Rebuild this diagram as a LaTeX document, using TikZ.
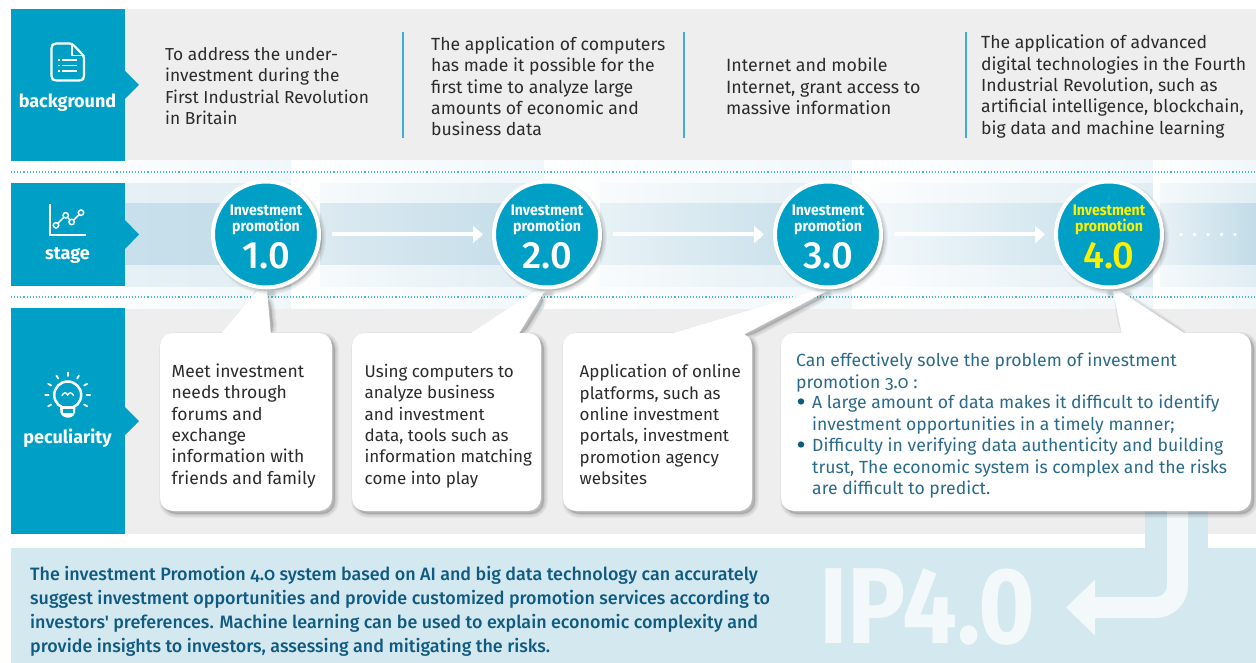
\documentclass[tikz,border=0pt]{standalone}
\usepackage{fontspec}
\setmainfont{Fira Sans}[Ligatures=TeXOff]
\newfontfamily\medfont{Fira Sans Medium}[Ligatures=TeXOff,Numbers=OldStyle]
\newfontfamily\mednum{Fira Sans Medium}[Ligatures=TeXOff]
\usetikzlibrary{arrows.meta}
\definecolor{teal0}{HTML}{00A0C6}
\definecolor{greyrow}{HTML}{EEEEEE}
\definecolor{band1}{HTML}{F0F7FA}
\definecolor{band2}{HTML}{E0EDF3}
\definecolor{band3}{HTML}{C2DCE8}
\definecolor{panel}{HTML}{D4E8F0}
\definecolor{ghost}{HTML}{F3F9FB}
\definecolor{dots}{HTML}{45BAD3}
\definecolor{divider}{HTML}{3DB0D0}
\definecolor{bodyink}{HTML}{2B2B2B}
\definecolor{boxink}{HTML}{2A6A8A}
\definecolor{panelink}{HTML}{0F5A80}
\definecolor{hilite}{HTML}{FFF000}
\newcommand\softshadow[1]{\foreach \w in {8,6,4,2}{\draw[black,opacity=.04,line width=\w pt,line join=round,fill=black,shift={(3,3)}] #1;}}
\newcommand\bodyfont{\fontsize{17}{21.35}\selectfont}
\newcommand\topfont{\fontsize{17.6}{21.35}\selectfont}
\newcommand\segment[5]{%
 \definecolor{segdark}{HTML}{#4}\definecolor{segmid}{HTML}{#5}%
 \shade[left color=white,right color=band1] (#1,161) rectangle (#2,308);
 \shade[left color=segmid,right color=band2] (#3,184) rectangle (#2,286);
 \shade[left color=segdark,right color=band3] (#3,204) rectangle (#2,265);}
\tikzset{
 blockhead/.style={fill=teal0,draw=none},
 rowlabel/.style={text=white,font=\fontsize{18}{20}\selectfont\bfseries,anchor=center,inner sep=0},
 toptext/.style={text=bodyink,font=\topfont,align=left,anchor=west,inner sep=0},
 boxtext/.style={text=bodyink,font=\bodyfont,align=left,anchor=west,inner sep=0},
 fourtext/.style={text=boxink,font=\fontsize{17.6}{21.35}\selectfont\addfontfeature{Numbers=OldStyle},align=left,anchor=north west,inner sep=0},
 paneltext/.style={text=panelink,font=\medfont\fontsize{17.9}{24}\selectfont,align=left,anchor=north west,inner sep=0},
 stagecircle/.style={circle,fill=teal0,draw=white,line width=4pt,minimum size=106pt,inner sep=0},
 stagename/.style={font=\fontsize{15.3}{16}\selectfont\bfseries\addfontfeature{FakeStretch=.92},align=center,inner sep=0,anchor=center},
 stagenum/.style={font=\mednum\fontsize{38}{40}\selectfont,inner sep=0,anchor=center},
 flow/.style={white,line width=4pt,-{Triangle[length=10pt,width=17pt]}},
 icon/.style={white,line width=2.2pt,line join=round,line cap=round},
 rule/.style={divider,line width=2pt},
 dotrule/.style={dots,line width=1.1pt,dash pattern=on 1.1pt off 2pt},
}
\begin{document}
\begin{tikzpicture}[x=1pt,y=-1pt]
\useasboundingbox (0,0) rectangle (1256,663);
\fill[white] (0,0) rectangle (1256,663);
% grey rows
\fill[greyrow] (125,9) rectangle (1256,161);
\fill[greyrow] (125,308) rectangle (1256,534);
% stage band
\fill[white] (11,161) rectangle (1256,308);
\segment{60}{291}{125}{C8E0EB}{E6F1F6}
\segment{291}{544}{320}{DCEAF1}{F6FAFC}
\segment{544}{852}{600}{E8F2F6}{F8FBFC}
\segment{852}{1153}{870}{F4F9FB}{FCFDFE}
\segment{1153}{1256}{1160}{E8F1F6}{F4F9FB}
\draw[dotrule] (11,172) -- (1256,172);
\draw[dotrule] (11,297) -- (1256,297);
% left heads
\fill[blockhead] (11,9) rectangle (125,161);
\fill[blockhead] (125,71) -- (139,85) -- (125,99) -- cycle;
\fill[blockhead] (11,183) rectangle (125,286);
\fill[blockhead] (125,220) -- (139,234.5) -- (125,249) -- cycle;
\fill[blockhead] (11,308) rectangle (125,534);
\fill[blockhead] (125,407) -- (139,421) -- (125,435) -- cycle;
\node[rowlabel] (lb1) at (67.5,102.5) {background};
\node[rowlabel] (lb2) at (67.5,255.5) {stage};
\node[rowlabel] (lb3) at (67.5,438) {peculiarity};
% document icon
\draw[icon,rounded corners=2.5pt] (72,43.5) -- (54,43.5) -- (51.5,46) -- (51.5,78) -- (54,80.5) -- (81.5,80.5) -- (84,78) -- (84,56) -- cycle;
\draw[icon,line width=1.4pt] (72,44) -- (72,55.5) -- (84,55.5);
\foreach \yy in {60,65.5,71}{\draw[white,line width=1.3pt] (62,\yy) -- (77,\yy); \draw[white,line width=1.3pt] (58,\yy) -- (60,\yy);}
% chart icon
\draw[white,line width=1.2pt] (50,204) -- (50,235) -- (85.6,235);
\draw[white,line width=1.5pt] (56,225.3) -- (65.7,215.3) -- (71.7,222) -- (81,212.7);
\foreach \px/\py in {56/225.3,65.7/215.3,71.7/222,81/212.7}{\draw[white,line width=1.5pt,fill=teal0] (\px,\py) circle (2.7);}
% bulb icon
\draw[icon,line width=2.5pt] (67.7,395) circle (13.5);
\fill[white,rounded corners=1.5pt] (60,406) -- (60.5,414) -- (65,417.5) -- (71,417.5) -- (75,414) -- (75.5,406) -- cycle;
\fill[teal0] (62.5,409) rectangle (73,413);
\draw[white,line width=1.4pt,line cap=round] (62,395.5) .. controls (64,392) and (66,392) .. (67.7,395) .. controls (69.5,392) and (71.5,392) .. (73.5,395.5);
\foreach \a in {0,30,60,90,120,150,180,210,330}{\draw[icon,line width=1.8pt] ({67.7+cos(\a)*19},{395-sin(\a)*19}) -- ({67.7+cos(\a)*22.5},{395-sin(\a)*22.5});}
% top row
\node[toptext,font=\fontsize{17.35}{21.35}\selectfont] (t1) at (165,86) {To address the under-\\investment during the\\First Industrial Revolution\\in Britain};
\node[toptext] (t2) at (431,86.5) {The application of computers\\has made it possible for the\\first time to analyze large\\amounts of economic and\\business data};
\node[toptext,font=\fontsize{17.8}{21.35}\selectfont] (t3) at (726,86.5) {Internet and mobile\\Internet, grant access to\\massive information};
\node[toptext] (t4) at (981,86.5) {The application of advanced\\digital technologies in the Fourth\\Industrial Revolution, such as\\artificial intelligence, blockchain,\\big data and machine learning};
\draw[rule] (402.5,32) -- (402.5,138);
\draw[rule] (683.5,32) -- (683.5,138);
\draw[rule] (965.5,32) -- (965.5,138);
% bottom panel
\fill[panel] (11,548) rectangle (1256,663);
\fill[panel] (1145,505) rectangle (1208,548);
\node[font=\fontsize{108}{110}\selectfont\bfseries\addfontfeature{FakeStretch=.9},text=ghost,inner sep=0,anchor=base] (ip) at (927.5,643) {IP4.0};
\coordinate (bendstart) at (1177.5,505);
\coordinate (bendcorner) at (1177.5,607.5);
\coordinate (bendend) at (1066,607.5);
\draw[ghost,line width=21pt,rounded corners=22pt,-{Triangle[length=29pt,width=54pt]}] (bendstart) -- (bendcorner) -- (bendend);
\node[paneltext] (pt) at (30,566) {The investment Promotion 4.0 system based on AI and big data technology can accurately\\suggest investment opportunities and provide customized promotion services according to\\investors' preferences. Machine learning can be used to explain economic complexity and\\provide insights to investors, assessing and mitigating the risks.};
% callouts
\softshadow{(160,333) [rounded corners=13pt] rectangle (332,511) (220,335) -- (257,291) -- (267,291) -- (271,335) -- cycle}
\softshadow{(352,333) [rounded corners=13pt] rectangle (541,511) (468,335) -- (535,291) -- (545,291) -- (518,335) -- cycle}
\softshadow{(563,333) [rounded corners=13pt] rectangle (752,511) (667,335) -- (813,291) -- (827,291) -- (743,335) -- cycle}
\softshadow{(781,333) [rounded corners=13pt] rectangle (1251,511) (1122,335) -- (1113,291) -- (1120,291) -- (1187,335) -- cycle}
\fill[white,rounded corners=13pt] (160,333) rectangle (332,511);
\fill[white,rounded corners=13pt] (352,333) rectangle (541,511);
\fill[white,rounded corners=13pt] (563,333) rectangle (752,511);
\fill[white,rounded corners=13pt] (781,333) rectangle (1251,511);
\fill[white] (220,335) -- (257,291) -- (267,291) -- (271,335) -- cycle;
\fill[white] (468,335) -- (535,291) -- (545,291) -- (518,335) -- cycle;
\fill[white] (667,335) -- (813,291) -- (827,291) -- (743,335) -- cycle;
\fill[white] (1122,335) -- (1113,291) -- (1120,291) -- (1187,335) -- cycle;
\node[boxtext,font=\fontsize{17.5}{21.35}\selectfont] (b1) at (171.5,426) {Meet investment\\needs through\\forums and\\exchange\\information with\\friends and family};
\node[boxtext] (b2) at (364.5,426) {Using computers to\\analyze business\\and investment\\data, tools such as\\information matching\\come into play};
\node[boxtext] (b3) at (579.5,424.5) {Application of online\\platforms, such as\\online investment\\portals, investment\\promotion agency\\websites};
\node[fourtext] (b4a) at (796,353) {Can effectively solve the problem of investment\\promotion 3.0 :};
\node[fourtext] (b4b) at (812,395) {A large amount of data makes it difficult to identify\\investment opportunities in a timely manner;};
\node[fourtext] (b4c) at (812,438) {Difficulty in verifying data authenticity and building\\trust, The economic system is complex and the risks\\are difficult to predict.};
\fill[panelink] (801,401.5) circle (3.2);
\fill[panelink] (801,444.5) circle (3.2);
% circles
\foreach \cx in {266,547,828,1109}{\softshadow{(\cx,234.5) circle (53)}}
\node[stagecircle] (c1) at (266,234.5) {};
\node[stagecircle] (c2) at (547,234.5) {};
\node[stagecircle] (c3) at (828,234.5) {};
\node[stagecircle] (c4) at (1109,234.5) {};
\node[stagename,text=white] (n1) at (266,220) {Investment\\promotion};
\node[stagename,text=white] (n2) at (547,220) {Investment\\promotion};
\node[stagename,text=white] (n3) at (828,220) {Investment\\promotion};
\node[stagename,text=hilite] (n4) at (1109,220) {Investment\\promotion};
\node[stagenum,text=white] (v1) at (266,256) {1.0};
\node[stagenum,text=white] (v2) at (547,256) {2.0};
\node[stagenum,text=white] (v3) at (828,256) {3.0};
\node[stagenum,text=hilite] (v4) at (1109,256) {4.0};
\draw[flow,shorten <=11pt,shorten >=9pt] (c1) -- (c2);
\draw[flow,shorten <=11pt,shorten >=9pt] (c2) -- (c3);
\draw[flow,shorten <=11pt,shorten >=9pt] (c3) -- (c4);
\foreach \dx in {1181,1194.5,1208,1221.5,1235}{\fill[white] (\dx,234.5) circle (1.9);}
\end{tikzpicture}
\end{document}
